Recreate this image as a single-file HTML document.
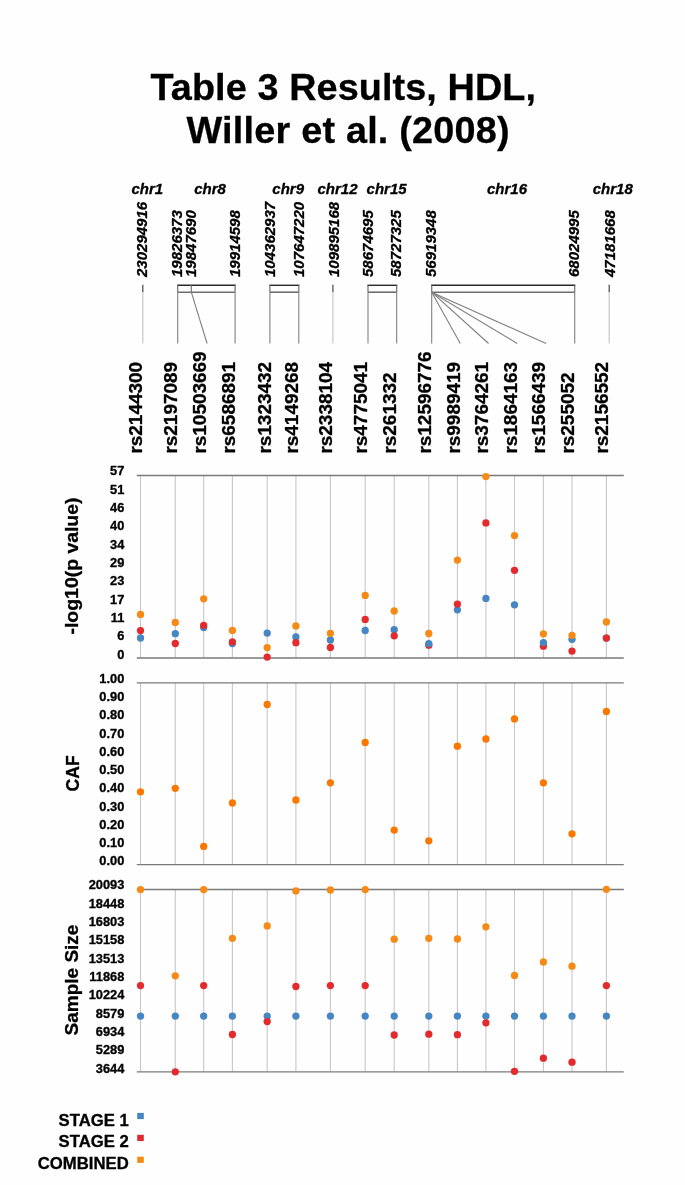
<!DOCTYPE html>
<html><head><meta charset="utf-8"><title>Table 3 Results, HDL, Willer et al. (2008)</title>
<style>
html,body{margin:0;padding:0;background:#fff;}
body{width:685px;height:1185px;overflow:hidden;}
svg{display:block;font-family:"Liberation Sans", sans-serif;will-change:transform;}
svg text{fill:#000;stroke:#000;stroke-width:0.3px;}
</style></head>
<body>
<svg width="685" height="1185" viewBox="0 0 685 1185">
<rect width="685" height="1185" fill="#fefefe"/>
<text x="343.2" y="100.3" font-size="37.8" font-weight="bold" text-anchor="middle" textLength="385.5">Table 3 Results, HDL,</text>
<text x="348.1" y="143.3" font-size="37.8" font-weight="bold" text-anchor="middle" textLength="323.1">Willer et al. (2008)</text>
<text x="147.3" y="194" font-size="15" font-weight="bold" font-style="italic" text-anchor="middle">chr1</text>
<text x="210.1" y="194" font-size="15" font-weight="bold" font-style="italic" text-anchor="middle">chr8</text>
<text x="288.2" y="194" font-size="15" font-weight="bold" font-style="italic" text-anchor="middle">chr9</text>
<text x="337.5" y="194" font-size="15" font-weight="bold" font-style="italic" text-anchor="middle">chr12</text>
<text x="386.6" y="194" font-size="15" font-weight="bold" font-style="italic" text-anchor="middle">chr15</text>
<text x="507.0" y="194" font-size="15" font-weight="bold" font-style="italic" text-anchor="middle">chr16</text>
<text x="612.8" y="194" font-size="15" font-weight="bold" font-style="italic" text-anchor="middle">chr18</text>
<text transform="translate(147.4,277) rotate(-90) scale(0.97,1)" font-size="15.5" font-weight="bold" font-style="italic">230294916</text>
<text transform="translate(181.9,277) rotate(-90) scale(0.97,1)" font-size="15.5" font-weight="bold" font-style="italic">19826373</text>
<text transform="translate(196.4,277) rotate(-90) scale(0.97,1)" font-size="15.5" font-weight="bold" font-style="italic">19847690</text>
<text transform="translate(239.6,277) rotate(-90) scale(0.97,1)" font-size="15.5" font-weight="bold" font-style="italic">19914598</text>
<text transform="translate(274.6,277) rotate(-90) scale(0.97,1)" font-size="15.5" font-weight="bold" font-style="italic">104362937</text>
<text transform="translate(303.5,277) rotate(-90) scale(0.97,1)" font-size="15.5" font-weight="bold" font-style="italic">107647220</text>
<text transform="translate(338.7,277) rotate(-90) scale(0.97,1)" font-size="15.5" font-weight="bold" font-style="italic">109895168</text>
<text transform="translate(372.7,277) rotate(-90) scale(0.97,1)" font-size="15.5" font-weight="bold" font-style="italic">58674695</text>
<text transform="translate(401.4,277) rotate(-90) scale(0.97,1)" font-size="15.5" font-weight="bold" font-style="italic">58727325</text>
<text transform="translate(435.5,277) rotate(-90) scale(0.97,1)" font-size="15.5" font-weight="bold" font-style="italic">56919348</text>
<text transform="translate(579.2,277) rotate(-90) scale(0.97,1)" font-size="15.5" font-weight="bold" font-style="italic">68024995</text>
<text transform="translate(614.5,277) rotate(-90) scale(0.97,1)" font-size="15.5" font-weight="bold" font-style="italic">47181668</text>
<text transform="translate(142.1,453.6) rotate(-90) scale(1.025,1)" font-size="18.5" font-weight="bold">rs2144300</text>
<text transform="translate(177.2,453.6) rotate(-90) scale(1.025,1)" font-size="18.5" font-weight="bold">rs2197089</text>
<text transform="translate(206.1,453.6) rotate(-90) scale(1.025,1)" font-size="18.5" font-weight="bold">rs10503669</text>
<text transform="translate(235.0,453.6) rotate(-90) scale(1.025,1)" font-size="18.5" font-weight="bold">rs6586891</text>
<text transform="translate(270.5,453.6) rotate(-90) scale(1.025,1)" font-size="18.5" font-weight="bold">rs1323432</text>
<text transform="translate(298.0,453.6) rotate(-90) scale(1.025,1)" font-size="18.5" font-weight="bold">rs4149268</text>
<text transform="translate(332.2,453.6) rotate(-90) scale(1.025,1)" font-size="18.5" font-weight="bold">rs2338104</text>
<text transform="translate(367.4,453.6) rotate(-90) scale(1.025,1)" font-size="18.5" font-weight="bold">rs4775041</text>
<text transform="translate(396.3,453.6) rotate(-90) scale(1.025,1)" font-size="18.5" font-weight="bold">rs261332</text>
<text transform="translate(430.8,453.6) rotate(-90) scale(1.025,1)" font-size="18.5" font-weight="bold">rs12596776</text>
<text transform="translate(459.9,453.6) rotate(-90) scale(1.025,1)" font-size="18.5" font-weight="bold">rs9989419</text>
<text transform="translate(488.0,453.6) rotate(-90) scale(1.025,1)" font-size="18.5" font-weight="bold">rs3764261</text>
<text transform="translate(516.5,453.6) rotate(-90) scale(1.025,1)" font-size="18.5" font-weight="bold">rs1864163</text>
<text transform="translate(545.2,453.6) rotate(-90) scale(1.025,1)" font-size="18.5" font-weight="bold">rs1566439</text>
<text transform="translate(573.9,453.6) rotate(-90) scale(1.025,1)" font-size="18.5" font-weight="bold">rs255052</text>
<text transform="translate(608.3,453.6) rotate(-90) scale(1.025,1)" font-size="18.5" font-weight="bold">rs2156552</text>
<line x1="142.8" y1="284.8" x2="142.8" y2="292.2" stroke="#555" stroke-width="1.3"/>
<line x1="142.8" y1="292.2" x2="142.8" y2="343.5" stroke="#c8c8c8" stroke-width="1.2"/>
<line x1="332.9" y1="284.8" x2="332.9" y2="292.2" stroke="#555" stroke-width="1.3"/>
<line x1="332.9" y1="292.2" x2="332.9" y2="343.5" stroke="#c8c8c8" stroke-width="1.2"/>
<line x1="609.2" y1="284.8" x2="609.2" y2="292.2" stroke="#555" stroke-width="1.3"/>
<line x1="609.2" y1="292.2" x2="609.2" y2="343.5" stroke="#c8c8c8" stroke-width="1.2"/>
<line x1="177.1" y1="285.3" x2="235.7" y2="285.3" stroke="#2a2a2a" stroke-width="1.4"/>
<line x1="177.7" y1="292.2" x2="235.1" y2="292.2" stroke="#6e6e6e" stroke-width="1.6"/>
<line x1="177.7" y1="285.3" x2="177.7" y2="292.2" stroke="#6e6e6e" stroke-width="1.2"/>
<line x1="235.1" y1="285.3" x2="235.1" y2="292.2" stroke="#6e6e6e" stroke-width="1.2"/>
<line x1="177.7" y1="292.2" x2="177.7" y2="343.5" stroke="#808080" stroke-width="1.1"/>
<line x1="235.1" y1="292.2" x2="235.1" y2="343.5" stroke="#808080" stroke-width="1.1"/>
<line x1="191.3" y1="285.3" x2="191.3" y2="292.2" stroke="#6e6e6e" stroke-width="1.1"/>
<line x1="191.3" y1="292.2" x2="207.1" y2="343.5" stroke="#808080" stroke-width="1.1"/>
<line x1="269.29999999999995" y1="285.3" x2="299.40000000000003" y2="285.3" stroke="#2a2a2a" stroke-width="1.4"/>
<line x1="269.9" y1="292.2" x2="298.8" y2="292.2" stroke="#6e6e6e" stroke-width="1.6"/>
<line x1="269.9" y1="285.3" x2="269.9" y2="292.2" stroke="#6e6e6e" stroke-width="1.2"/>
<line x1="298.8" y1="285.3" x2="298.8" y2="292.2" stroke="#6e6e6e" stroke-width="1.2"/>
<line x1="269.9" y1="292.2" x2="269.9" y2="343.5" stroke="#808080" stroke-width="1.1"/>
<line x1="298.8" y1="292.2" x2="298.8" y2="343.5" stroke="#808080" stroke-width="1.1"/>
<line x1="367.4" y1="285.3" x2="397.3" y2="285.3" stroke="#2a2a2a" stroke-width="1.4"/>
<line x1="368.0" y1="292.2" x2="396.7" y2="292.2" stroke="#6e6e6e" stroke-width="1.6"/>
<line x1="368.0" y1="285.3" x2="368.0" y2="292.2" stroke="#6e6e6e" stroke-width="1.2"/>
<line x1="396.7" y1="285.3" x2="396.7" y2="292.2" stroke="#6e6e6e" stroke-width="1.2"/>
<line x1="368.0" y1="292.2" x2="368.0" y2="343.5" stroke="#808080" stroke-width="1.1"/>
<line x1="396.7" y1="292.2" x2="396.7" y2="343.5" stroke="#808080" stroke-width="1.1"/>
<line x1="431.09999999999997" y1="285.3" x2="575.3000000000001" y2="285.3" stroke="#2a2a2a" stroke-width="1.4"/>
<line x1="431.7" y1="292.2" x2="574.7" y2="292.2" stroke="#6e6e6e" stroke-width="1.6"/>
<line x1="431.7" y1="285.3" x2="431.7" y2="292.2" stroke="#6e6e6e" stroke-width="1.2"/>
<line x1="574.7" y1="285.3" x2="574.7" y2="292.2" stroke="#6e6e6e" stroke-width="1.2"/>
<line x1="431.7" y1="292.2" x2="431.7" y2="343.5" stroke="#808080" stroke-width="1.1"/>
<line x1="574.7" y1="292.2" x2="574.7" y2="343.5" stroke="#808080" stroke-width="1.1"/>
<line x1="431.7" y1="292.2" x2="460.3" y2="343.5" stroke="#808080" stroke-width="1.1"/>
<line x1="431.7" y1="292.2" x2="488.6" y2="343.5" stroke="#808080" stroke-width="1.1"/>
<line x1="431.7" y1="292.2" x2="517.2" y2="343.5" stroke="#808080" stroke-width="1.1"/>
<line x1="431.7" y1="292.2" x2="546.1" y2="343.5" stroke="#808080" stroke-width="1.1"/>
<line x1="140.5" y1="475.3" x2="140.5" y2="657.8" stroke="#c8c8c8" stroke-width="1.1"/>
<line x1="175.3" y1="475.3" x2="175.3" y2="657.8" stroke="#c8c8c8" stroke-width="1.1"/>
<line x1="203.7" y1="475.3" x2="203.7" y2="657.8" stroke="#c8c8c8" stroke-width="1.1"/>
<line x1="232.4" y1="475.3" x2="232.4" y2="657.8" stroke="#c8c8c8" stroke-width="1.1"/>
<line x1="267.2" y1="475.3" x2="267.2" y2="657.8" stroke="#c8c8c8" stroke-width="1.1"/>
<line x1="295.9" y1="475.3" x2="295.9" y2="657.8" stroke="#c8c8c8" stroke-width="1.1"/>
<line x1="330.4" y1="475.3" x2="330.4" y2="657.8" stroke="#c8c8c8" stroke-width="1.1"/>
<line x1="365.2" y1="475.3" x2="365.2" y2="657.8" stroke="#c8c8c8" stroke-width="1.1"/>
<line x1="394.2" y1="475.3" x2="394.2" y2="657.8" stroke="#c8c8c8" stroke-width="1.1"/>
<line x1="428.8" y1="475.3" x2="428.8" y2="657.8" stroke="#c8c8c8" stroke-width="1.1"/>
<line x1="457.4" y1="475.3" x2="457.4" y2="657.8" stroke="#c8c8c8" stroke-width="1.1"/>
<line x1="485.9" y1="475.3" x2="485.9" y2="657.8" stroke="#c8c8c8" stroke-width="1.1"/>
<line x1="514.5" y1="475.3" x2="514.5" y2="657.8" stroke="#c8c8c8" stroke-width="1.1"/>
<line x1="543.4" y1="475.3" x2="543.4" y2="657.8" stroke="#c8c8c8" stroke-width="1.1"/>
<line x1="572.0" y1="475.3" x2="572.0" y2="657.8" stroke="#c8c8c8" stroke-width="1.1"/>
<line x1="606.4" y1="475.3" x2="606.4" y2="657.8" stroke="#c8c8c8" stroke-width="1.1"/>
<line x1="136.8" y1="475.5" x2="623.8" y2="475.5" stroke="#7a7a7a" stroke-width="1.3"/>
<line x1="136.8" y1="658.0" x2="623.8" y2="658.0" stroke="#7a7a7a" stroke-width="1.3"/>
<line x1="140.5" y1="682.6" x2="140.5" y2="864.5" stroke="#c8c8c8" stroke-width="1.1"/>
<line x1="175.3" y1="682.6" x2="175.3" y2="864.5" stroke="#c8c8c8" stroke-width="1.1"/>
<line x1="203.7" y1="682.6" x2="203.7" y2="864.5" stroke="#c8c8c8" stroke-width="1.1"/>
<line x1="232.4" y1="682.6" x2="232.4" y2="864.5" stroke="#c8c8c8" stroke-width="1.1"/>
<line x1="267.2" y1="682.6" x2="267.2" y2="864.5" stroke="#c8c8c8" stroke-width="1.1"/>
<line x1="295.9" y1="682.6" x2="295.9" y2="864.5" stroke="#c8c8c8" stroke-width="1.1"/>
<line x1="330.4" y1="682.6" x2="330.4" y2="864.5" stroke="#c8c8c8" stroke-width="1.1"/>
<line x1="365.2" y1="682.6" x2="365.2" y2="864.5" stroke="#c8c8c8" stroke-width="1.1"/>
<line x1="394.2" y1="682.6" x2="394.2" y2="864.5" stroke="#c8c8c8" stroke-width="1.1"/>
<line x1="428.8" y1="682.6" x2="428.8" y2="864.5" stroke="#c8c8c8" stroke-width="1.1"/>
<line x1="457.4" y1="682.6" x2="457.4" y2="864.5" stroke="#c8c8c8" stroke-width="1.1"/>
<line x1="485.9" y1="682.6" x2="485.9" y2="864.5" stroke="#c8c8c8" stroke-width="1.1"/>
<line x1="514.5" y1="682.6" x2="514.5" y2="864.5" stroke="#c8c8c8" stroke-width="1.1"/>
<line x1="543.4" y1="682.6" x2="543.4" y2="864.5" stroke="#c8c8c8" stroke-width="1.1"/>
<line x1="572.0" y1="682.6" x2="572.0" y2="864.5" stroke="#c8c8c8" stroke-width="1.1"/>
<line x1="606.4" y1="682.6" x2="606.4" y2="864.5" stroke="#c8c8c8" stroke-width="1.1"/>
<line x1="136.8" y1="682.8000000000001" x2="623.8" y2="682.8000000000001" stroke="#7a7a7a" stroke-width="1.3"/>
<line x1="136.8" y1="864.7" x2="623.8" y2="864.7" stroke="#7a7a7a" stroke-width="1.3"/>
<line x1="140.5" y1="889.3" x2="140.5" y2="1071.7" stroke="#c8c8c8" stroke-width="1.1"/>
<line x1="175.3" y1="889.3" x2="175.3" y2="1071.7" stroke="#c8c8c8" stroke-width="1.1"/>
<line x1="203.7" y1="889.3" x2="203.7" y2="1071.7" stroke="#c8c8c8" stroke-width="1.1"/>
<line x1="232.4" y1="889.3" x2="232.4" y2="1071.7" stroke="#c8c8c8" stroke-width="1.1"/>
<line x1="267.2" y1="889.3" x2="267.2" y2="1071.7" stroke="#c8c8c8" stroke-width="1.1"/>
<line x1="295.9" y1="889.3" x2="295.9" y2="1071.7" stroke="#c8c8c8" stroke-width="1.1"/>
<line x1="330.4" y1="889.3" x2="330.4" y2="1071.7" stroke="#c8c8c8" stroke-width="1.1"/>
<line x1="365.2" y1="889.3" x2="365.2" y2="1071.7" stroke="#c8c8c8" stroke-width="1.1"/>
<line x1="394.2" y1="889.3" x2="394.2" y2="1071.7" stroke="#c8c8c8" stroke-width="1.1"/>
<line x1="428.8" y1="889.3" x2="428.8" y2="1071.7" stroke="#c8c8c8" stroke-width="1.1"/>
<line x1="457.4" y1="889.3" x2="457.4" y2="1071.7" stroke="#c8c8c8" stroke-width="1.1"/>
<line x1="485.9" y1="889.3" x2="485.9" y2="1071.7" stroke="#c8c8c8" stroke-width="1.1"/>
<line x1="514.5" y1="889.3" x2="514.5" y2="1071.7" stroke="#c8c8c8" stroke-width="1.1"/>
<line x1="543.4" y1="889.3" x2="543.4" y2="1071.7" stroke="#c8c8c8" stroke-width="1.1"/>
<line x1="572.0" y1="889.3" x2="572.0" y2="1071.7" stroke="#c8c8c8" stroke-width="1.1"/>
<line x1="606.4" y1="889.3" x2="606.4" y2="1071.7" stroke="#c8c8c8" stroke-width="1.1"/>
<line x1="136.8" y1="889.5" x2="623.8" y2="889.5" stroke="#7a7a7a" stroke-width="1.3"/>
<line x1="136.8" y1="1071.9" x2="623.8" y2="1071.9" stroke="#7a7a7a" stroke-width="1.3"/>
<text transform="translate(124.3,475.4) scale(1.07,1)" font-size="12" font-weight="bold" text-anchor="end">57</text>
<text transform="translate(124.3,493.7) scale(1.07,1)" font-size="12" font-weight="bold" text-anchor="end">51</text>
<text transform="translate(124.3,512.1) scale(1.07,1)" font-size="12" font-weight="bold" text-anchor="end">46</text>
<text transform="translate(124.3,530.4) scale(1.07,1)" font-size="12" font-weight="bold" text-anchor="end">40</text>
<text transform="translate(124.3,548.7) scale(1.07,1)" font-size="12" font-weight="bold" text-anchor="end">34</text>
<text transform="translate(124.3,567.1) scale(1.07,1)" font-size="12" font-weight="bold" text-anchor="end">29</text>
<text transform="translate(124.3,585.4) scale(1.07,1)" font-size="12" font-weight="bold" text-anchor="end">23</text>
<text transform="translate(124.3,603.7) scale(1.07,1)" font-size="12" font-weight="bold" text-anchor="end">17</text>
<text transform="translate(124.3,622.0) scale(1.07,1)" font-size="12" font-weight="bold" text-anchor="end">11</text>
<text transform="translate(124.3,640.4) scale(1.07,1)" font-size="12" font-weight="bold" text-anchor="end">6</text>
<text transform="translate(124.3,658.7) scale(1.07,1)" font-size="12" font-weight="bold" text-anchor="end">0</text>
<text transform="translate(124.3,682.7) scale(1.07,1)" font-size="12" font-weight="bold" text-anchor="end">1.00</text>
<text transform="translate(124.3,701.0) scale(1.07,1)" font-size="12" font-weight="bold" text-anchor="end">0.90</text>
<text transform="translate(124.3,719.2) scale(1.07,1)" font-size="12" font-weight="bold" text-anchor="end">0.80</text>
<text transform="translate(124.3,737.5) scale(1.07,1)" font-size="12" font-weight="bold" text-anchor="end">0.70</text>
<text transform="translate(124.3,755.8) scale(1.07,1)" font-size="12" font-weight="bold" text-anchor="end">0.60</text>
<text transform="translate(124.3,774.1) scale(1.07,1)" font-size="12" font-weight="bold" text-anchor="end">0.50</text>
<text transform="translate(124.3,792.3) scale(1.07,1)" font-size="12" font-weight="bold" text-anchor="end">0.40</text>
<text transform="translate(124.3,810.6) scale(1.07,1)" font-size="12" font-weight="bold" text-anchor="end">0.30</text>
<text transform="translate(124.3,828.9) scale(1.07,1)" font-size="12" font-weight="bold" text-anchor="end">0.20</text>
<text transform="translate(124.3,847.1) scale(1.07,1)" font-size="12" font-weight="bold" text-anchor="end">0.10</text>
<text transform="translate(124.3,865.4) scale(1.07,1)" font-size="12" font-weight="bold" text-anchor="end">0.00</text>
<text transform="translate(124.3,889.4) scale(1.07,1)" font-size="12" font-weight="bold" text-anchor="end">20093</text>
<text transform="translate(124.3,907.7) scale(1.07,1)" font-size="12" font-weight="bold" text-anchor="end">18448</text>
<text transform="translate(124.3,926.0) scale(1.07,1)" font-size="12" font-weight="bold" text-anchor="end">16803</text>
<text transform="translate(124.3,944.4) scale(1.07,1)" font-size="12" font-weight="bold" text-anchor="end">15158</text>
<text transform="translate(124.3,962.7) scale(1.07,1)" font-size="12" font-weight="bold" text-anchor="end">13513</text>
<text transform="translate(124.3,981.0) scale(1.07,1)" font-size="12" font-weight="bold" text-anchor="end">11868</text>
<text transform="translate(124.3,999.3) scale(1.07,1)" font-size="12" font-weight="bold" text-anchor="end">10224</text>
<text transform="translate(124.3,1017.6) scale(1.07,1)" font-size="12" font-weight="bold" text-anchor="end">8579</text>
<text transform="translate(124.3,1036.0) scale(1.07,1)" font-size="12" font-weight="bold" text-anchor="end">6934</text>
<text transform="translate(124.3,1054.3) scale(1.07,1)" font-size="12" font-weight="bold" text-anchor="end">5289</text>
<text transform="translate(124.3,1072.6) scale(1.07,1)" font-size="12" font-weight="bold" text-anchor="end">3644</text>
<text transform="translate(78.3,566) rotate(-90) scale(1.05,1)" font-size="18.5" font-weight="bold" text-anchor="middle">-log10(p value)</text>
<text transform="translate(78.6,773.4) rotate(-90)" font-size="17.5" font-weight="bold" text-anchor="middle">CAF</text>
<text transform="translate(78.3,980) rotate(-90) scale(1.027,1)" font-size="18.5" font-weight="bold" text-anchor="middle">Sample Size</text>
<circle cx="140.5" cy="630.6" r="3.65" fill="#e32b2e"/>
<circle cx="140.5" cy="638.0" r="3.65" fill="#4686c2"/>
<circle cx="140.5" cy="614.4" r="3.65" fill="#f58b16"/>
<circle cx="175.3" cy="633.7" r="3.65" fill="#4686c2"/>
<circle cx="175.3" cy="643.5" r="3.65" fill="#e32b2e"/>
<circle cx="175.3" cy="622.5" r="3.65" fill="#f58b16"/>
<circle cx="203.7" cy="627.5" r="3.65" fill="#4686c2"/>
<circle cx="203.7" cy="625.3" r="3.65" fill="#e32b2e"/>
<circle cx="203.7" cy="598.8" r="3.65" fill="#f58b16"/>
<circle cx="232.4" cy="643.5" r="3.65" fill="#4686c2"/>
<circle cx="232.4" cy="641.8" r="3.65" fill="#e32b2e"/>
<circle cx="232.4" cy="630.4" r="3.65" fill="#f58b16"/>
<circle cx="267.2" cy="633.1" r="3.65" fill="#4686c2"/>
<circle cx="267.2" cy="657.1" r="3.65" fill="#e32b2e"/>
<circle cx="267.2" cy="647.6" r="3.65" fill="#f58b16"/>
<circle cx="295.9" cy="636.9" r="3.65" fill="#4686c2"/>
<circle cx="295.9" cy="642.7" r="3.65" fill="#e32b2e"/>
<circle cx="295.9" cy="625.9" r="3.65" fill="#f58b16"/>
<circle cx="330.4" cy="640.0" r="3.65" fill="#4686c2"/>
<circle cx="330.4" cy="647.5" r="3.65" fill="#e32b2e"/>
<circle cx="330.4" cy="633.3" r="3.65" fill="#f58b16"/>
<circle cx="365.2" cy="630.5" r="3.65" fill="#4686c2"/>
<circle cx="365.2" cy="619.4" r="3.65" fill="#e32b2e"/>
<circle cx="365.2" cy="595.4" r="3.65" fill="#f58b16"/>
<circle cx="394.2" cy="629.7" r="3.65" fill="#4686c2"/>
<circle cx="394.2" cy="635.8" r="3.65" fill="#e32b2e"/>
<circle cx="394.2" cy="611.0" r="3.65" fill="#f58b16"/>
<circle cx="428.8" cy="645.2" r="3.65" fill="#e32b2e"/>
<circle cx="428.8" cy="643.6" r="3.65" fill="#4686c2"/>
<circle cx="428.8" cy="633.5" r="3.65" fill="#f58b16"/>
<circle cx="457.4" cy="609.8" r="3.65" fill="#4686c2"/>
<circle cx="457.4" cy="604.1" r="3.65" fill="#e32b2e"/>
<circle cx="457.4" cy="560.1" r="3.65" fill="#f58b16"/>
<circle cx="485.9" cy="598.4" r="3.65" fill="#4686c2"/>
<circle cx="485.9" cy="522.9" r="3.65" fill="#e32b2e"/>
<circle cx="485.9" cy="476.6" r="3.65" fill="#f58b16"/>
<circle cx="514.5" cy="604.8" r="3.65" fill="#4686c2"/>
<circle cx="514.5" cy="570.3" r="3.65" fill="#e32b2e"/>
<circle cx="514.5" cy="535.6" r="3.65" fill="#f58b16"/>
<circle cx="543.4" cy="646.2" r="3.65" fill="#e32b2e"/>
<circle cx="543.4" cy="642.6" r="3.65" fill="#4686c2"/>
<circle cx="543.4" cy="633.8" r="3.65" fill="#f58b16"/>
<circle cx="572.0" cy="639.3" r="3.65" fill="#4686c2"/>
<circle cx="572.0" cy="651.1" r="3.65" fill="#e32b2e"/>
<circle cx="572.0" cy="635.3" r="3.65" fill="#f58b16"/>
<circle cx="606.4" cy="638.1" r="3.65" fill="#4686c2"/>
<circle cx="606.4" cy="638.1" r="3.65" fill="#e32b2e"/>
<circle cx="606.4" cy="621.9" r="3.65" fill="#f58b16"/>
<circle cx="140.5" cy="791.8" r="3.65" fill="#fa7800"/>
<circle cx="175.3" cy="788.3" r="3.65" fill="#fa7800"/>
<circle cx="203.7" cy="846.4" r="3.65" fill="#fa7800"/>
<circle cx="232.4" cy="803.0" r="3.65" fill="#fa7800"/>
<circle cx="267.2" cy="704.5" r="3.65" fill="#fa7800"/>
<circle cx="295.9" cy="800.0" r="3.65" fill="#fa7800"/>
<circle cx="330.4" cy="782.8" r="3.65" fill="#fa7800"/>
<circle cx="365.2" cy="742.5" r="3.65" fill="#fa7800"/>
<circle cx="394.2" cy="830.1" r="3.65" fill="#fa7800"/>
<circle cx="428.8" cy="840.8" r="3.65" fill="#fa7800"/>
<circle cx="457.4" cy="746.2" r="3.65" fill="#fa7800"/>
<circle cx="485.9" cy="739.0" r="3.65" fill="#fa7800"/>
<circle cx="514.5" cy="718.9" r="3.65" fill="#fa7800"/>
<circle cx="543.4" cy="782.8" r="3.65" fill="#fa7800"/>
<circle cx="572.0" cy="833.8" r="3.65" fill="#fa7800"/>
<circle cx="606.4" cy="711.5" r="3.65" fill="#fa7800"/>
<circle cx="140.5" cy="1016.1" r="3.65" fill="#4686c2"/>
<circle cx="140.5" cy="985.6" r="3.65" fill="#e32b2e"/>
<circle cx="140.5" cy="889.6" r="3.65" fill="#f58b16"/>
<circle cx="175.3" cy="1016.1" r="3.65" fill="#4686c2"/>
<circle cx="175.3" cy="1071.8" r="3.65" fill="#e32b2e"/>
<circle cx="175.3" cy="975.8" r="3.65" fill="#f58b16"/>
<circle cx="203.7" cy="1016.1" r="3.65" fill="#4686c2"/>
<circle cx="203.7" cy="985.6" r="3.65" fill="#e32b2e"/>
<circle cx="203.7" cy="889.6" r="3.65" fill="#f58b16"/>
<circle cx="232.4" cy="1016.1" r="3.65" fill="#4686c2"/>
<circle cx="232.4" cy="1034.5" r="3.65" fill="#e32b2e"/>
<circle cx="232.4" cy="938.3" r="3.65" fill="#f58b16"/>
<circle cx="267.2" cy="1016.1" r="3.65" fill="#4686c2"/>
<circle cx="267.2" cy="1021.6" r="3.65" fill="#e32b2e"/>
<circle cx="267.2" cy="925.9" r="3.65" fill="#f58b16"/>
<circle cx="295.9" cy="1016.1" r="3.65" fill="#4686c2"/>
<circle cx="295.9" cy="986.5" r="3.65" fill="#e32b2e"/>
<circle cx="295.9" cy="890.9" r="3.65" fill="#f58b16"/>
<circle cx="330.4" cy="1016.1" r="3.65" fill="#4686c2"/>
<circle cx="330.4" cy="985.6" r="3.65" fill="#e32b2e"/>
<circle cx="330.4" cy="890.0" r="3.65" fill="#f58b16"/>
<circle cx="365.2" cy="1016.1" r="3.65" fill="#4686c2"/>
<circle cx="365.2" cy="985.6" r="3.65" fill="#e32b2e"/>
<circle cx="365.2" cy="889.6" r="3.65" fill="#f58b16"/>
<circle cx="394.2" cy="1016.1" r="3.65" fill="#4686c2"/>
<circle cx="394.2" cy="1035.0" r="3.65" fill="#e32b2e"/>
<circle cx="394.2" cy="939.2" r="3.65" fill="#f58b16"/>
<circle cx="428.8" cy="1016.1" r="3.65" fill="#4686c2"/>
<circle cx="428.8" cy="1034.2" r="3.65" fill="#e32b2e"/>
<circle cx="428.8" cy="938.3" r="3.65" fill="#f58b16"/>
<circle cx="457.4" cy="1016.1" r="3.65" fill="#4686c2"/>
<circle cx="457.4" cy="1034.7" r="3.65" fill="#e32b2e"/>
<circle cx="457.4" cy="939.0" r="3.65" fill="#f58b16"/>
<circle cx="485.9" cy="1016.1" r="3.65" fill="#4686c2"/>
<circle cx="485.9" cy="1022.8" r="3.65" fill="#e32b2e"/>
<circle cx="485.9" cy="926.8" r="3.65" fill="#f58b16"/>
<circle cx="514.5" cy="1016.1" r="3.65" fill="#4686c2"/>
<circle cx="514.5" cy="1071.3" r="3.65" fill="#e32b2e"/>
<circle cx="514.5" cy="975.5" r="3.65" fill="#f58b16"/>
<circle cx="543.4" cy="1016.1" r="3.65" fill="#4686c2"/>
<circle cx="543.4" cy="1058.2" r="3.65" fill="#e32b2e"/>
<circle cx="543.4" cy="962.0" r="3.65" fill="#f58b16"/>
<circle cx="572.0" cy="1016.1" r="3.65" fill="#4686c2"/>
<circle cx="572.0" cy="1062.2" r="3.65" fill="#e32b2e"/>
<circle cx="572.0" cy="966.2" r="3.65" fill="#f58b16"/>
<circle cx="606.4" cy="1016.1" r="3.65" fill="#4686c2"/>
<circle cx="606.4" cy="985.6" r="3.65" fill="#e32b2e"/>
<circle cx="606.4" cy="889.3" r="3.65" fill="#f58b16"/>
<text transform="translate(128.8,1125.7) scale(1.045,1)" font-size="16" font-weight="bold" text-anchor="end">STAGE 1</text>
<rect x="137.2" y="1112.9" width="6.6" height="6.2" fill="#4686c2"/>
<text transform="translate(128.8,1147.0) scale(1.045,1)" font-size="16" font-weight="bold" text-anchor="end">STAGE 2</text>
<rect x="137.2" y="1134.8" width="6.6" height="6.2" fill="#e32b2e"/>
<text transform="translate(128.8,1169.0) scale(1.045,1)" font-size="16" font-weight="bold" text-anchor="end">COMBINED</text>
<rect x="137.2" y="1156.7" width="6.6" height="6.2" fill="#f58b16"/>
</svg>
</body></html>
